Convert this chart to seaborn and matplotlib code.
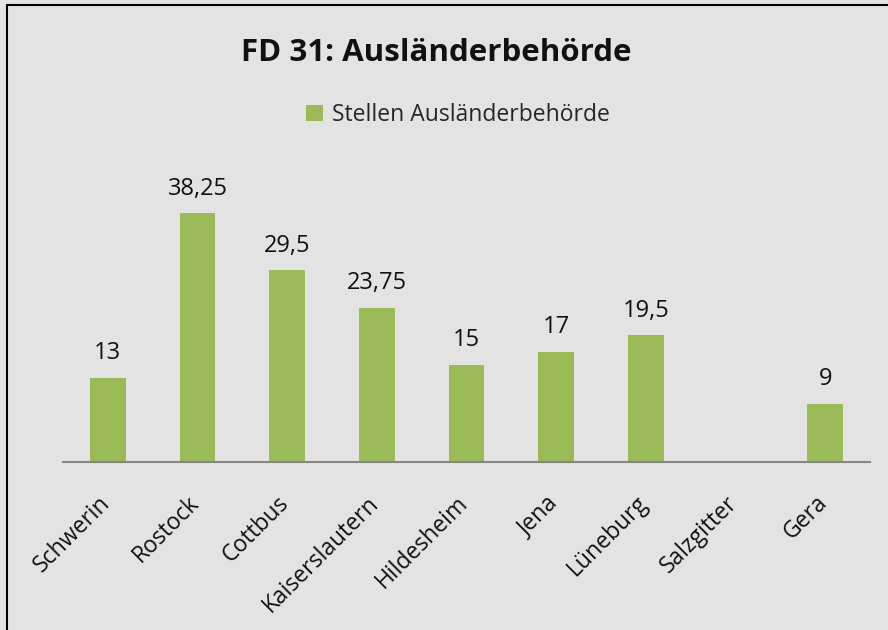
import matplotlib
matplotlib.use("Agg")
import matplotlib.pyplot as plt
import matplotlib.transforms as mtransforms
from matplotlib.lines import Line2D
import seaborn as sns
import pandas as pd

# data
staedte = ['Schwerin', 'Rostock', 'Cottbus', 'Kaiserslautern', 'Hildesheim',
           'Jena', 'Lüneburg', 'Salzgitter', 'Gera']
stellen = [13, 38.25, 29.5, 23.75, 15, 17, 19.5, None, 9]
serie = 'Stellen Ausländerbehörde'

df = pd.DataFrame({'Stadt': staedte, 'Stellen': stellen})

sns.set_style('white')
plt.rcParams['font.family'] = ['Open Sans', 'DejaVu Sans']

bg = '#E3E3E3'
gruen = '#9BBB59'

W, H = 888, 630
fig = plt.figure(figsize=(W / 100, H / 100), dpi=100, facecolor=bg)
# axes placed in pixels: x 63..870, y=0 at 462, top at 150
ax = fig.add_axes([63 / W, (H - 462) / H, (870 - 63) / W, (462 - 150) / H])
ax.set_facecolor(bg)

sns.barplot(data=df, x='Stadt', y='Stellen', color=gruen, width=0.4,
            saturation=1, ax=ax, label=serie, edgecolor='none', linewidth=0)
ax.set_ylim(0, 48)
ax.set_xlim(-0.5, len(staedte) - 0.5)

for i, v in enumerate(stellen):
    if v is None:
        continue
    txt = f'{v:g}'.replace('.', ',')
    ax.text(i, v + 1.9, txt, ha='center', va='bottom', fontsize=17, color='#111111')

for s in ['top', 'right', 'left']:
    ax.spines[s].set_visible(False)
ax.spines['bottom'].set_color('#868686')
ax.spines['bottom'].set_linewidth(1.5)
ax.set_yticks([])
ax.set_xlabel('')
ax.set_ylabel('')
ax.tick_params(axis='x', length=0, pad=21)

# rotated labels, nudged a little left like the reference
offset = mtransforms.ScaledTranslation(-10 / 100, 0, fig.dpi_scale_trans)
for lab in ax.get_xticklabels():
    lab.set_rotation(45)
    lab.set_ha('right')
    lab.set_rotation_mode('anchor')
    lab.set_fontsize(16.5)
    lab.set_color('#111111')
    lab.set_transform(lab.get_transform() + offset)

fig.text(436 / W, 1 - 53 / H, 'FD 31: Ausländerbehörde', ha='center', va='center',
         fontsize=22.5, fontweight='bold', color='#111111')

leg = ax.legend(loc='center', bbox_to_anchor=(458 / W, 1 - 115 / H),
                bbox_transform=fig.transFigure, frameon=False, fontsize=16.5,
                handlelength=0.7, handleheight=0.7, handletextpad=0.4)

# left and top border of the chart area
fig.add_artist(Line2D([7 / W, 7 / W], [0, 1 - 5 / H], color='black', lw=1.5,
                      transform=fig.transFigure))
fig.add_artist(Line2D([7 / W, 1], [1 - 5 / H, 1 - 5 / H], color='black', lw=1.5,
                      transform=fig.transFigure))

fig.savefig('out.png', dpi=100, facecolor=bg)
